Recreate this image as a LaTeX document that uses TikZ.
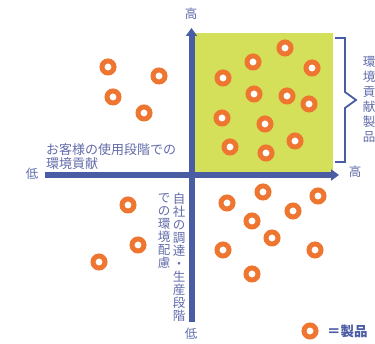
\documentclass[tikz,border=0pt]{standalone}
\usepackage{fontspec}
\setmainfont{Noto Sans CJK JP}
\usepackage{tikz}
\usetikzlibrary{positioning,arrows.meta}

\definecolor{axisblue}{RGB}{74,92,163}
\definecolor{labelblue}{RGB}{98,108,170}
\definecolor{ringorange}{RGB}{238,118,48}
\definecolor{zonegreen}{RGB}{212,223,90}

\tikzset{
  ring/.style={circle,draw=ringorange,line width=5pt,minimum size=12pt,inner sep=0pt,fill=white},
  axis/.style={draw=axisblue,line width=6pt,-{Triangle[length=8pt,width=11pt]}},
  lbl/.style={text=labelblue,inner sep=0pt,font=\fontsize{12.5}{13}\selectfont},
}

\begin{document}
\begin{tikzpicture}[x=1pt,y=-1pt]
      \useasboundingbox[fill=white] (0,0) rectangle (375,344);

      % green zone and brace
      \fill[zonegreen] (195,33) rectangle (333,172);
      \draw[axisblue,line width=1.8pt] (335,38) -- (345,38) -- (345,92) -- (356,100) -- (345,108) -- (345,162) -- (335,162);

      % axes
      \coordinate (xstart) at (45,175);
      \coordinate (xend) at (339,175);
      \coordinate (ystart) at (191.5,322);
      \coordinate (yend) at (191.5,28);
      \draw[axis] (xstart) -- (xend);
      \draw[axis] (ystart) -- (yend);

      \node[lbl] (ytop) at (191,14) {高};
      \node[lbl] (ybot) at (191,334) {低};
      \node[lbl] (xlow) at (32,174) {低};
      \node[lbl] (xhigh) at (355,172) {高};

      \node[lbl,anchor=north west,align=left,font=\fontsize{13}{14}\selectfont] (usage) at (46,143) {お客様の使用段階での\\環境貢献};
      \node[lbl,anchor=north,align=center] (procure) at (179,193) {自\\社\\の\\調\\達\\・\\生\\産\\段\\階};
      \node[lbl,anchor=north,align=center] (ownsite) at (164,193) {で\\の\\環\\境\\配\\慮};
      \node[lbl,anchor=north,align=center,font=\fontsize{12.5}{15}\selectfont] (product) at (369,56) {環\\境\\貢\\献\\製\\品};

      % products
      \node[ring] (p1) at (108,67) {};
      \node[ring] (p2) at (159,76) {};
      \node[ring] (p3) at (113,97) {};
      \node[ring] (p4) at (144,113) {};
      \node[ring] (p5) at (285,48) {};
      \node[ring] (p6) at (253,62) {};
      \node[ring] (p7) at (312,68) {};
      \node[ring] (p8) at (223,78) {};
      \node[ring] (p9) at (254,94) {};
      \node[ring] (p10) at (287,96) {};
      \node[ring] (p11) at (309,104) {};
      \node[ring] (p12) at (222,118) {};
      \node[ring] (p13) at (265,124) {};
      \node[ring] (p14) at (295,141) {};
      \node[ring] (p15) at (230,147) {};
      \node[ring] (p16) at (266,153) {};
      \node[ring] (p17) at (128,205) {};
      \node[ring] (p18) at (138,245) {};
      \node[ring] (p19) at (99,262) {};
      \node[ring] (p20) at (227,203) {};
      \node[ring] (p21) at (263,192) {};
      \node[ring] (p22) at (318,196) {};
      \node[ring] (p23) at (293,211) {};
      \node[ring] (p24) at (252,221) {};
      \node[ring] (p25) at (272,238) {};
      \node[ring] (p26) at (223,250) {};
      \node[ring] (p27) at (315,250) {};
      \node[ring] (p28) at (252,274) {};

      % legend
      \node[ring] (key) at (310,331) {};
      \node[lbl,anchor=west,text=axisblue,font=\fontsize{13.5}{14}\selectfont\bfseries] (keytext) at (327,331) {＝製品};
\end{tikzpicture}
\end{document}
